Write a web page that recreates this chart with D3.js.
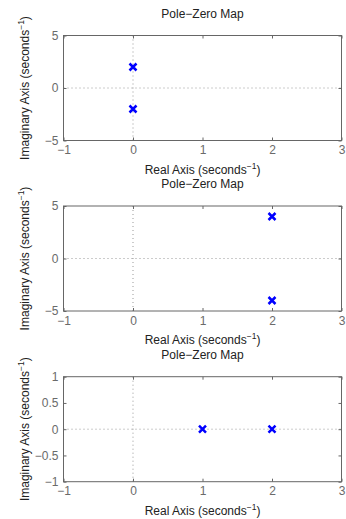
<!DOCTYPE html>
<html><head><meta charset="utf-8">
<script src="https://cdn.jsdelivr.net/npm/d3@7"></script>
<style>
html,body{margin:0;padding:0;background:#fff;}
svg{display:block;font-family:"Liberation Sans",Arial,sans-serif;}
</style></head>
<body>
<svg id="c" width="346" height="519"></svg>
<script>
// Data
const titles = ["Pole\u2212Zero Map", "Pole\u2212Zero Map", "Pole\u2212Zero Map"];
const xDomain = [-1, 3];
const xTicks = [-1, 0, 1, 2, 3];
const yDomains = [[-5, 5], [-5, 5], [-1, 1]];
const yTicks = [[-5, 0, 5], [-5, 0, 5], [-1, -0.5, 0, 0.5, 1]];
const polesRe = [[0, 0], [2, 2], [1, 2]];
const polesIm = [[2, -2], [4, -4], [0, 0]];

const svg = d3.select("#c");
const left = 63.5, right = 341.5, h = 105;
const tops = [35.5, 206, 376.7];
const axisCol = "#666", textCol = "#6a6a6a";
const fmt = v => String(v).replace("-", "\u2212");

tops.forEach((top, i) => {
  const g = svg.append("g");
  const x = d3.scaleLinear().domain(xDomain).range([left, right]);
  const y = d3.scaleLinear().domain(yDomains[i]).range([top + h, top]);
  // dotted zero lines
  g.append("line").attr("x1", x(0)).attr("x2", x(0)).attr("y1", top).attr("y2", top + h)
    .attr("stroke", "#999").attr("stroke-dasharray", "1,3").attr("stroke-width", 1);
  g.append("line").attr("x1", left).attr("x2", right).attr("y1", y(0)).attr("y2", y(0))
    .attr("stroke", "#999").attr("stroke-dasharray", "1,3").attr("stroke-width", 1);
  // axes
  const ax = d3.axisBottom(x).tickValues(xTicks).tickSize(-3).tickPadding(5).tickFormat(fmt);
  const axT = d3.axisTop(x).tickValues(xTicks).tickSize(-3).tickFormat("");
  const ay = d3.axisLeft(y).tickValues(yTicks[i]).tickSize(-3).tickPadding(5).tickFormat(fmt);
  const ayR = d3.axisRight(y).tickValues(yTicks[i]).tickSize(-3).tickFormat("");
  [[ax, `translate(0,${top + h})`], [axT, `translate(0,${top})`], [ay, `translate(${left},0)`], [ayR, `translate(${right},0)`]]
    .forEach(([a, t]) => {
      const s = g.append("g").attr("transform", t).call(a);
      s.select(".domain").remove();
      s.selectAll("line").attr("stroke", axisCol);
      s.selectAll("text").attr("fill", textCol).attr("font-size", 12).attr("font-family", '"Liberation Sans",Arial,sans-serif');
    });
  g.append("rect").attr("x", left).attr("y", top).attr("width", right - left).attr("height", h)
    .attr("fill", "none").attr("stroke", axisCol).attr("stroke-width", 1);
  // title
  g.append("text").attr("x", (left + right) / 2).attr("y", top - 18).attr("text-anchor", "middle")
    .attr("font-size", 12).attr("fill", "#222").text(titles[i]);
  // x label
  const xl = g.append("text").attr("x", (left + right) / 2).attr("y", top + h + 33).attr("text-anchor", "middle")
    .attr("font-size", 12).attr("fill", "#222");
  xl.append("tspan").text("Real Axis (seconds");
  xl.append("tspan").attr("dy", -5).attr("font-size", 8.5).text("\u22121");
  xl.append("tspan").attr("dy", 5).text(")");
  // y label
  const yl = g.append("text").attr("transform", `translate(29,${top + h / 2}) rotate(-90)`).attr("text-anchor", "middle")
    .attr("font-size", 12).attr("fill", "#222");
  yl.append("tspan").text("Imaginary Axis (seconds");
  yl.append("tspan").attr("dy", -5).attr("font-size", 8.5).text("\u22121");
  yl.append("tspan").attr("dy", 5).text(")");
  // poles
  const pts = polesRe[i].map((r, k) => [r, polesIm[i][k]]);
  const s = 3.5;
  g.selectAll("path.pole").data(pts).enter().append("path").attr("class", "pole")
    .attr("d", d => `M${x(d[0]) - s},${y(d[1]) - s}L${x(d[0]) + s},${y(d[1]) + s}M${x(d[0]) - s},${y(d[1]) + s}L${x(d[0]) + s},${y(d[1]) - s}`)
    .attr("stroke", "#0000ff").attr("stroke-width", 2.5).attr("fill", "none");
});
</script>
</body></html>
